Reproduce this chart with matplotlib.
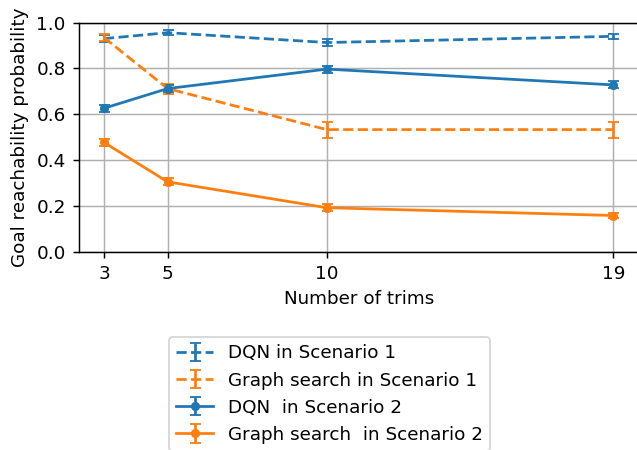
import matplotlib
matplotlib.use("Agg")
import matplotlib.pyplot as plt

trims = [3, 5, 10, 19]
dqn_s1 = [0.930, 0.956, 0.913, 0.940]
dqn_s1_err = [0.015, 0.012, 0.015, 0.012]
graph_s1 = [0.935, 0.712, 0.533, 0.533]
graph_s1_err = [0.015, 0.022, 0.035, 0.035]
dqn_s2 = [0.626, 0.712, 0.797, 0.728]
dqn_s2_err = [0.015, 0.015, 0.015, 0.015]
graph_s2 = [0.477, 0.305, 0.192, 0.158]
graph_s2_err = [0.016, 0.015, 0.015, 0.012]

DPI = 132
W, H = 637, 450
fig = plt.figure(figsize=(W / DPI, H / DPI), dpi=DPI)
left, right, top, bottom = 78.5, 638.8, 22.6, 251.7
ax = fig.add_axes([left / W, 1 - bottom / H, (right - left) / W, (bottom - top) / H])

blue, orange = "#1f77b4", "#ff7f0e"
kw = dict(capsize=3)
ax.errorbar(trims, dqn_s1, yerr=dqn_s1_err, color=blue, linestyle="--", label="DQN in Scenario 1", **kw)
ax.errorbar(trims, graph_s1, yerr=graph_s1_err, color=orange, linestyle="--", label="Graph search in Scenario 1", **kw)
ax.errorbar(trims, dqn_s2, yerr=dqn_s2_err, color=blue, linestyle="-", marker="o", markersize=4, label="DQN  in Scenario 2", **kw)
ax.errorbar(trims, graph_s2, yerr=graph_s2_err, color=orange, linestyle="-", marker="o", markersize=4, label="Graph search  in Scenario 2", **kw)

ax.set_xticks(trims)
ax.set_xlim(2.2, 19.8)
ax.set_ylim(0, 1.0)
ax.set_yticks([0.0, 0.2, 0.4, 0.6, 0.8, 1.0])
ax.grid(True)
ax.set_axisbelow(True)
ax.set_xlabel("Number of trims")
ax.set_ylabel("Goal reachability probability")

fig.legend(loc="upper center", bbox_to_anchor=(329.5 / W, 1 - 337 / H), borderaxespad=0)

fig.savefig("out.png", dpi=DPI)
